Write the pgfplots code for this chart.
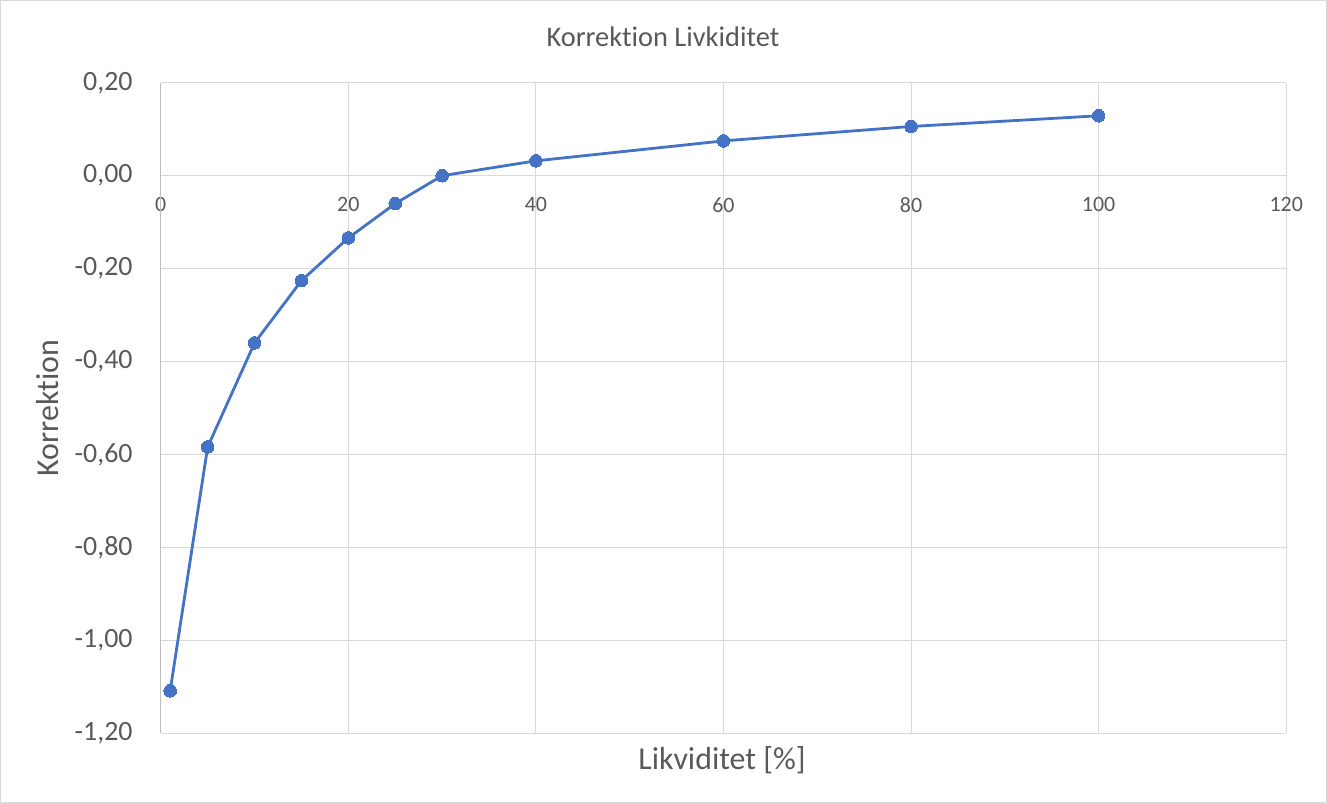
\documentclass[border=0pt]{standalone}
\usepackage{pgfplots}
\pgfplotsset{compat=1.18}
\usepackage{fontspec}
\setmainfont{Carlito}[Ligatures={NoCommon}]
\definecolor{txt}{HTML}{595959}
\definecolor{grd}{HTML}{D9D9D9}
\definecolor{axl}{HTML}{BFBFBF}
\definecolor{ser}{HTML}{4472C4}
\begin{document}
\begin{tikzpicture}
\begin{axis}[
  scale only axis, width=1125bp, height=650bp,
  xmin=0, xmax=120, ymin=-1.2, ymax=0.2,
  xtick={0,20,...,120}, ytick={-1.2,-1.0,...,0.2},
  grid=major, major grid style={color=grd, line width=1bp},
  axis line style={draw=none},
  major tick length=0pt,
  clip=false,
  /pgf/number format/assume math mode=true,
  yticklabel style={/pgf/number format/fixed, /pgf/number format/fixed zerofill, /pgf/number format/precision=2, /pgf/number format/use comma,
    font=\fontsize{28}{30}\selectfont, text=txt, inner sep=0pt, anchor=east, xshift=-28bp},
  xticklabel style={/pgf/number format/fixed, /pgf/number format/precision=0,
    font=\fontsize{22}{24}\selectfont, text=txt, inner sep=0pt, anchor=center, yshift=528bp},
]
\draw[grd, line width=1bp] (axis cs:0,0) -- (axis cs:120,0);
\draw[axl, line width=1.2bp] (axis cs:0,-1.2) -- (axis cs:0,0.2);
\addplot[color=ser, line width=2.8bp, mark=*, mark size=6.3bp, mark options={fill=ser, draw=ser, line width=0bp}] coordinates {
(1,-1.109) (5,-0.584) (10,-0.360) (15,-0.226) (20,-0.134) (25,-0.060)
(30,0.000) (40,0.032) (60,0.075) (80,0.106) (100,0.129)
};
\node[text=txt, font=\fontsize{28.5}{30}\selectfont] at (rel axis cs:0.4462,1.0708) {Korrektion Livkiditet};
\node[text=txt, font=\fontsize{32}{34}\selectfont, rotate=90] at (rel axis cs:-0.1004,0.5) {Korrektion};
\node[text=txt, font=\fontsize{32}{34}\selectfont] at (rel axis cs:0.4987,-0.0415) {Likviditet [\%]};
\draw[grd, line width=1.5bp] (rel axis cs:-0.1422,-0.1077) rectangle (rel axis cs:1.0356,1.1262);
\end{axis}
\end{tikzpicture}
\end{document}
